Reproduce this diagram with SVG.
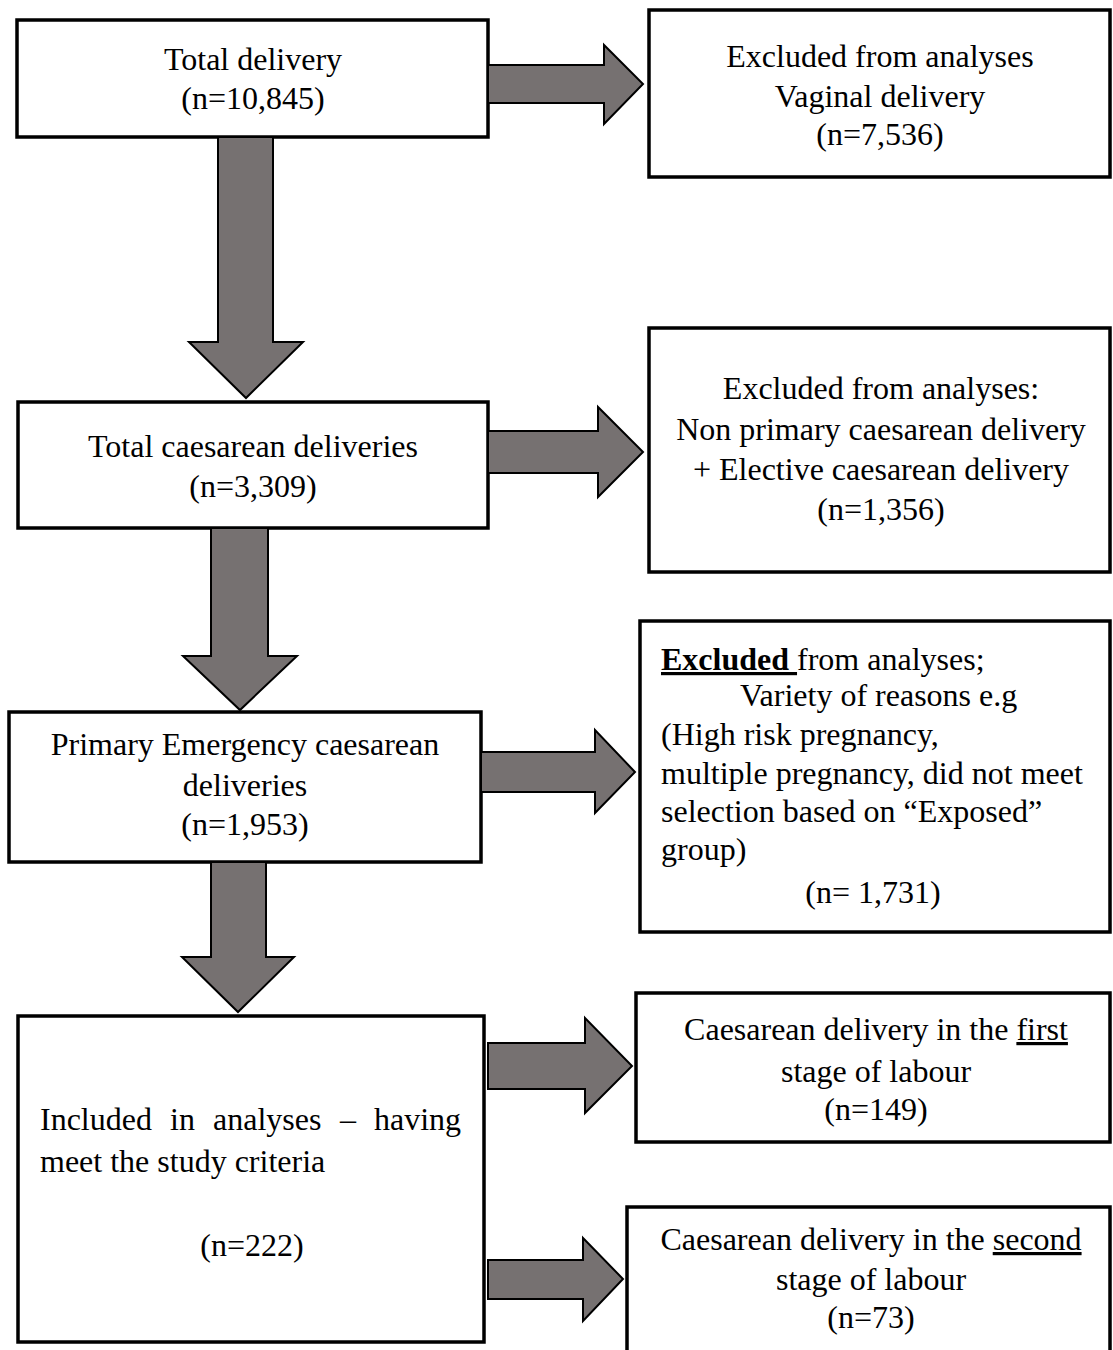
<svg xmlns="http://www.w3.org/2000/svg" width="1113" height="1350" viewBox="0 0 1113 1350">
<style>
.box{fill:#fff;stroke:#000;stroke-width:3.5}
.arr{fill:#767171;stroke:#000;stroke-width:2;stroke-linejoin:miter}
text{font-family:"Liberation Serif","Times New Roman",serif;font-size:32px;fill:#000}
.c{text-anchor:middle}
.u{text-decoration:underline}
</style>
<rect width="1113" height="1350" fill="#fff"/>
<g id="n1"><rect class="box" x="17" y="20" width="471" height="117"/>
<text class="c" x="253" y="70">Total delivery</text>
<text class="c" x="253" y="109">(n=10,845)</text></g>
<g id="n2"><rect class="box" x="649" y="10" width="461" height="167"/>
<text class="c" x="880" y="67">Excluded from analyses</text>
<text class="c" x="880" y="107">Vaginal delivery</text>
<text class="c" x="880" y="145">(n=7,536)</text></g>
<g id="n3"><rect class="box" x="18" y="402" width="470" height="126"/>
<text class="c" x="253" y="457">Total caesarean deliveries</text>
<text class="c" x="253" y="497">(n=3,309)</text></g>
<g id="n4"><rect class="box" x="649" y="328" width="461" height="244"/>
<text class="c" x="881" y="399">Excluded from analyses:</text>
<text class="c" x="881" y="440">Non primary caesarean delivery</text>
<text class="c" x="881" y="480">+ Elective caesarean delivery</text>
<text class="c" x="881" y="520">(n=1,356)</text></g>
<g id="n5"><rect class="box" x="9" y="712" width="472" height="150"/>
<text class="c" x="245" y="755">Primary Emergency caesarean</text>
<text class="c" x="245" y="796">deliveries</text>
<text class="c" x="245" y="835">(n=1,953)</text></g>
<g id="n6"><rect class="box" x="640" y="621" width="470" height="311"/>
<text x="661" y="670"><tspan font-weight="bold" class="u">Excluded </tspan>from analyses;</text>
<text x="740" y="706">Variety of reasons e.g</text>
<text x="661" y="745">(High risk pregnancy,</text>
<text x="661" y="784">multiple pregnancy, did not meet</text>
<text x="661" y="822">selection based on “Exposed”</text>
<text x="661" y="860">group)</text>
<text class="c" x="873" y="903">(n= 1,731)</text></g>
<g id="n7"><rect class="box" x="18" y="1016" width="466" height="326"/>
<text y="1130"><tspan x="40">Included</tspan><tspan x="170">in</tspan><tspan x="213">analyses</tspan><tspan x="340">–</tspan><tspan x="374">having</tspan></text>
<text x="40" y="1172">meet the study criteria</text>
<text class="c" x="252" y="1256">(n=222)</text></g>
<g id="n8"><rect class="box" x="636" y="993" width="474" height="149"/>
<text class="c" x="876" y="1040">Caesarean delivery in the <tspan class="u">first</tspan></text>
<text class="c" x="876" y="1082">stage of labour</text>
<text class="c" x="876" y="1120">(n=149)</text></g>
<g id="n9"><rect class="box" x="627" y="1207" width="483" height="160"/>
<text class="c" x="871" y="1250">Caesarean delivery in the <tspan class="u">second</tspan></text>
<text class="c" x="871" y="1290">stage of labour</text>
<text class="c" x="871" y="1328">(n=73)</text></g>
<g id="connectors">
<polygon class="arr" points="218,137 273,137 273,342 303,342 246,398 189,342 218,342"/>
<polygon class="arr" points="211,528 268,528 268,656 297,656 240,710 183,656 211,656"/>
<polygon class="arr" points="211,862 266,862 266,957 294,957 238,1012 182,957 211,957"/>
<polygon class="arr" points="488,65 604,65 604,45 643,84 604,124 604,103 488,103"/>
<polygon class="arr" points="488,431 598,431 598,407 643,452 598,497 598,473 488,473"/>
<polygon class="arr" points="481,752 595,752 595,730 635,772 595,813 595,792 481,792"/>
<polygon class="arr" points="488,1043 585,1043 585,1018 632,1066 585,1113 585,1089 488,1089"/>
<polygon class="arr" points="488,1260 583,1260 583,1238 623,1279 583,1321 583,1299 488,1299"/>
</g>
</svg>
